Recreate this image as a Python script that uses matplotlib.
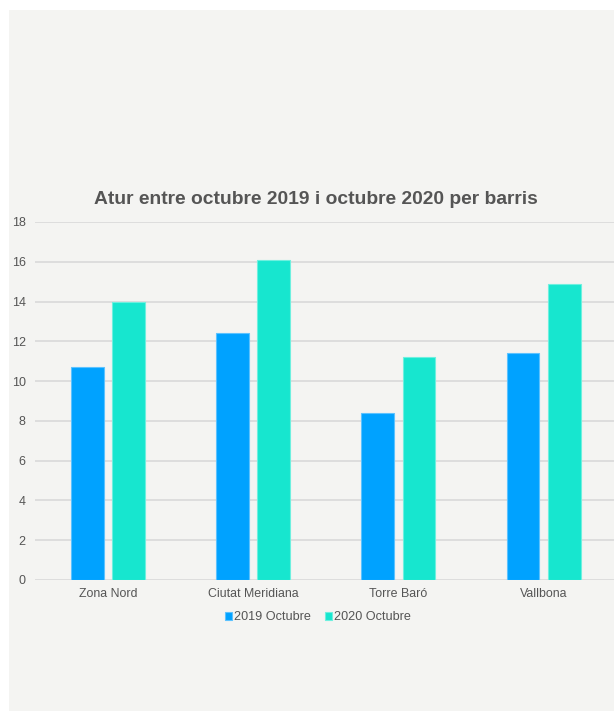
import matplotlib
matplotlib.use("Agg")
import matplotlib.pyplot as plt
from matplotlib.patches import Rectangle
import numpy as np

categories = ["Zona Nord", "Ciutat Meridiana", "Torre Baró", "Vallbona"]
series_names = ["2019 Octubre", "2020 Octubre"]
values_2019 = [10.7, 12.4, 8.4, 11.4]
values_2020 = [14.0, 16.1, 11.2, 14.9]
yticks = [0, 2, 4, 6, 8, 10, 12, 14, 16, 18]

blue = "#00a2ff"
teal = "#17e6cf"
bg = "#f4f4f2"
text_col = "#555555"

plt.rcParams["font.family"] = ["Liberation Sans", "DejaVu Sans"]

W, H = 614, 711
fig = plt.figure(figsize=(W / 100, H / 100), dpi=100, facecolor="white")
fig.patches.append(Rectangle((9 / W, 0), 1 - 9 / W, (H - 10) / H,
                             transform=fig.transFigure, facecolor=bg,
                             edgecolor="none", zorder=-10))

ax = fig.add_axes([35.4 / W, (H - 580) / H, 580.8 / W, (580 - 222) / H])
ax.patch.set_alpha(0)

x = np.arange(len(categories))
w = 0.225
off = 0.142
ax.bar(x - off, values_2019, w, color=blue, edgecolor="#5cc2ff", linewidth=0.8,
       label=series_names[0], zorder=3)
ax.bar(x + off, values_2020, w, color=teal, edgecolor="#6ef0df", linewidth=0.8,
       label=series_names[1], zorder=3)

ax.set_xlim(-0.5, 3.5)
ax.set_ylim(0, 18)
ax.set_yticks(yticks)
ax.set_xticks(x)
ax.set_xticklabels(categories, fontsize=8.9)
ax.grid(axis="y", color="#d9d9d9", linewidth=1.2, zorder=0)
ax.tick_params(axis="both", length=0, colors=text_col)
ax.tick_params(axis="y", pad=7, labelsize=9)
ax.tick_params(axis="x", pad=6)
for s in ax.spines.values():
    s.set_visible(False)

fig.text(315.5 / W, (H - 199.5) / H, "Atur entre octubre 2019 i octubre 2020 per barris",
         ha="center", va="center", fontsize=13.9, fontweight="bold", color=text_col)

leg = fig.legend(loc="center", bbox_to_anchor=(318 / W, (H - 617.5) / H), ncol=2,
                 frameon=False, fontsize=9.1, handlelength=0.55, handleheight=0.55,
                 handletextpad=0.15, columnspacing=1.1, borderpad=0)
for t in leg.get_texts():
    t.set_color(text_col)

fig.savefig("out.png", dpi=100, facecolor="white")
